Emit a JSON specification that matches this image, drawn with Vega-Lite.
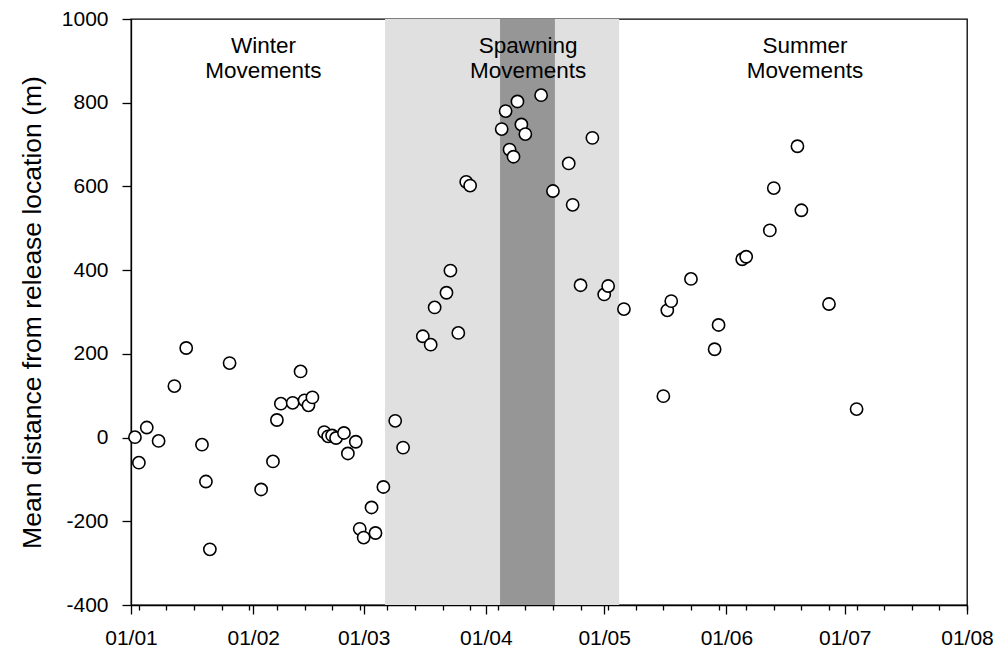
{
  "$schema": "https://vega.github.io/schema/vega-lite/v6.json",
  "width": 836,
  "height": 586,
  "autosize": {"type": "none"},
  "padding": {"left": 131, "top": 19, "right": 26, "bottom": 45},
  "background": "white",
  "config": {
    "view": {"stroke": "black", "strokeWidth": 1.3},
    "font": "Liberation Sans",
    "axis": {"labelFont": "Liberation Sans", "titleFont": "Liberation Sans", "labelColor": "black", "titleColor": "black", "tickColor": "black", "domainColor": "black", "grid": false}
  },
  "datasets": {
    "bands": [
      {"phase": "Spawning movements", "start": "2010-03-06T10:00", "end": "2010-05-04T19:00"},
      {"phase": "Peak spawning", "start": "2010-04-04T14:00", "end": "2010-04-18T12:00"}
    ],
    "points": [
      {"date": "2010-01-02T00:00", "distance": 1},
      {"date": "2010-01-03T00:00", "distance": -60},
      {"date": "2010-01-05T00:00", "distance": 24},
      {"date": "2010-01-08T00:00", "distance": -8},
      {"date": "2010-01-12T00:00", "distance": 123},
      {"date": "2010-01-15T00:00", "distance": 214},
      {"date": "2010-01-19T00:00", "distance": -17},
      {"date": "2010-01-20T00:00", "distance": -105},
      {"date": "2010-01-21T00:00", "distance": -267},
      {"date": "2010-01-26T00:00", "distance": 178},
      {"date": "2010-02-03T00:00", "distance": -124},
      {"date": "2010-02-06T00:00", "distance": -57},
      {"date": "2010-02-07T00:00", "distance": 42},
      {"date": "2010-02-08T00:00", "distance": 81},
      {"date": "2010-02-11T00:00", "distance": 83},
      {"date": "2010-02-13T00:00", "distance": 158},
      {"date": "2010-02-14T00:00", "distance": 89},
      {"date": "2010-02-15T00:00", "distance": 77},
      {"date": "2010-02-16T00:00", "distance": 96},
      {"date": "2010-02-19T00:00", "distance": 13},
      {"date": "2010-02-20T00:00", "distance": 3},
      {"date": "2010-02-21T00:00", "distance": 5},
      {"date": "2010-02-22T00:00", "distance": -1},
      {"date": "2010-02-24T00:00", "distance": 11},
      {"date": "2010-02-25T00:00", "distance": -38},
      {"date": "2010-02-27T00:00", "distance": -10},
      {"date": "2010-02-28T00:00", "distance": -218},
      {"date": "2010-03-01T00:00", "distance": -239},
      {"date": "2010-03-03T00:00", "distance": -167},
      {"date": "2010-03-04T00:00", "distance": -228},
      {"date": "2010-03-06T00:00", "distance": -118},
      {"date": "2010-03-09T00:00", "distance": 40},
      {"date": "2010-03-11T00:00", "distance": -24},
      {"date": "2010-03-16T00:00", "distance": 242},
      {"date": "2010-03-18T00:00", "distance": 222},
      {"date": "2010-03-19T00:00", "distance": 311},
      {"date": "2010-03-22T00:00", "distance": 346},
      {"date": "2010-03-23T00:00", "distance": 399},
      {"date": "2010-03-25T00:00", "distance": 250},
      {"date": "2010-03-27T00:00", "distance": 611},
      {"date": "2010-03-28T00:00", "distance": 602},
      {"date": "2010-04-05T00:00", "distance": 737},
      {"date": "2010-04-06T00:00", "distance": 780},
      {"date": "2010-04-07T00:00", "distance": 688},
      {"date": "2010-04-08T00:00", "distance": 671},
      {"date": "2010-04-09T00:00", "distance": 803},
      {"date": "2010-04-10T00:00", "distance": 748},
      {"date": "2010-04-11T00:00", "distance": 725},
      {"date": "2010-04-15T00:00", "distance": 818},
      {"date": "2010-04-18T00:00", "distance": 589},
      {"date": "2010-04-22T00:00", "distance": 655},
      {"date": "2010-04-23T00:00", "distance": 556},
      {"date": "2010-04-25T00:00", "distance": 364},
      {"date": "2010-04-28T00:00", "distance": 716},
      {"date": "2010-05-01T00:00", "distance": 342},
      {"date": "2010-05-02T00:00", "distance": 362},
      {"date": "2010-05-06T00:00", "distance": 307},
      {"date": "2010-05-16T00:00", "distance": 99},
      {"date": "2010-05-17T00:00", "distance": 304},
      {"date": "2010-05-18T00:00", "distance": 326},
      {"date": "2010-05-23T00:00", "distance": 379},
      {"date": "2010-05-29T00:00", "distance": 211},
      {"date": "2010-05-30T00:00", "distance": 269},
      {"date": "2010-06-05T00:00", "distance": 426},
      {"date": "2010-06-06T00:00", "distance": 432},
      {"date": "2010-06-12T00:00", "distance": 495},
      {"date": "2010-06-13T00:00", "distance": 596},
      {"date": "2010-06-19T00:00", "distance": 696},
      {"date": "2010-06-20T00:00", "distance": 543},
      {"date": "2010-06-27T00:00", "distance": 319},
      {"date": "2010-07-04T00:00", "distance": 68}
    ],
    "labels": [
      {"date": "2010-02-03T14:00", "distance": 961, "text": "Winter\nMovements"},
      {"date": "2010-04-11T17:00", "distance": 961, "text": "Spawning\nMovements"},
      {"date": "2010-06-20T22:00", "distance": 961, "text": "Summer\nMovements"}
    ]
  },
  "resolve": {"axis": {"x": "independent", "y": "independent"}},
  "layer": [
    {
      "data": {"name": "bands"},
      "mark": {"type": "rect"},
      "encoding": {
        "x": {
          "field": "start", "type": "temporal",
          "scale": {"domain": [{"year": 2010, "month": 1, "date": 1}, {"year": 2010, "month": 8, "date": 1}], "nice": false},
          "axis": {"orient": "bottom", "tickCount": {"interval": "month", "step": 1}, "format": "%d/%m", "labelFontSize": 21, "tickSize": 9, "tickWidth": 1.3, "domainWidth": 1.3, "labelPadding": 13, "title": null, "labelFlush": false, "labelOverlap": false}
        },
        "x2": {"field": "end"},
        "color": {"field": "phase", "type": "nominal", "scale": {"domain": ["Spawning movements", "Peak spawning"], "range": ["#e0e0e0", "#969696"]}, "legend": null}
      }
    },
    {
      "data": {"name": "points"},
      "mark": {"type": "circle", "fill": "white", "stroke": "black", "strokeWidth": 1.6, "size": 150, "opacity": 1},
      "encoding": {
        "x": {
          "field": "date", "type": "temporal",
          "scale": {"domain": [{"year": 2010, "month": 1, "date": 1}, {"year": 2010, "month": 8, "date": 1}], "nice": false},
          "axis": {"orient": "bottom", "tickCount": {"interval": "week", "step": 1}, "labels": false, "domain": false, "tickSize": 5, "tickWidth": 1.3, "title": null}
        },
        "y": {
          "field": "distance", "type": "quantitative",
          "scale": {"domain": [-400, 1000], "nice": false, "zero": false},
          "axis": {"values": [-400, -200, 0, 200, 400, 600, 800, 1000], "labelExpr": "datum.value < 0 ? '-' + abs(datum.value) : '' + datum.value", "labelFontSize": 21, "tickSize": 9, "tickWidth": 1.3, "domainWidth": 1.3, "labelPadding": 14, "title": "Mean distance from release location (m)", "titleFontSize": 26.5, "titleFontWeight": "normal", "titlePadding": 15}
        }
      }
    },
    {
      "data": {"name": "labels"},
      "mark": {"type": "text", "lineBreak": "\n", "baseline": "top", "align": "center", "fontSize": 22.5, "lineHeight": 25, "font": "Liberation Sans", "color": "black"},
      "encoding": {
        "x": {
          "field": "date", "type": "temporal",
          "scale": {"domain": [{"year": 2010, "month": 1, "date": 1}, {"year": 2010, "month": 8, "date": 1}], "nice": false},
          "axis": null
        },
        "y": {"field": "distance", "type": "quantitative", "scale": {"domain": [-400, 1000], "nice": false, "zero": false}, "axis": null},
        "text": {"field": "text"}
      }
    }
  ]
}
